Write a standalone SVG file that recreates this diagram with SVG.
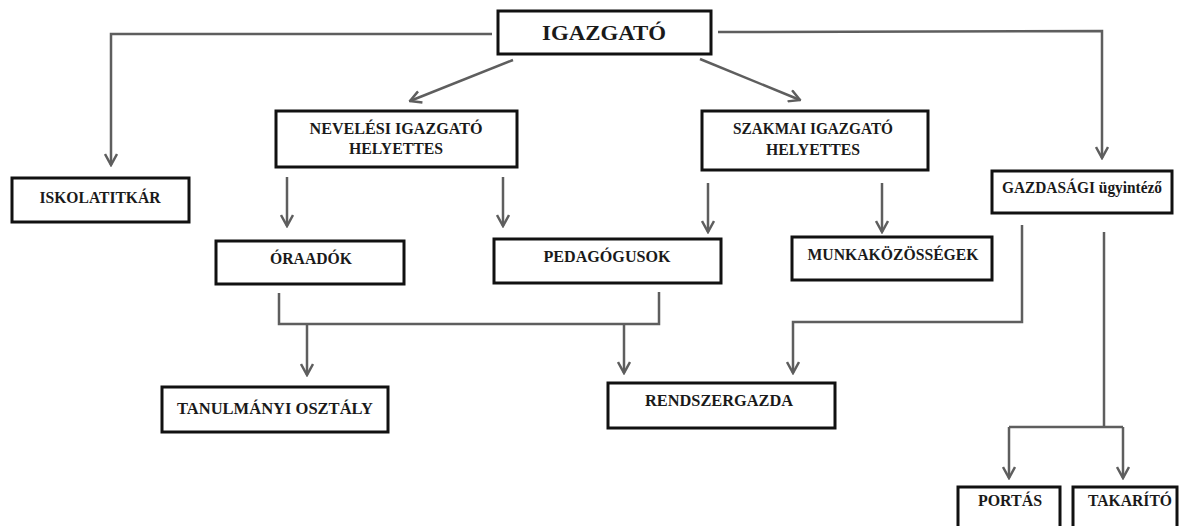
<svg xmlns="http://www.w3.org/2000/svg" width="1182" height="526" viewBox="0 0 1182 526">
<style>
.box{fill:#fff;stroke:#111;stroke-width:3}
.t{font-family:"Liberation Serif","Times New Roman",serif;font-weight:bold;fill:#1a1a1a;text-anchor:middle;font-size:16px}
.c{fill:none;stroke:#5e5e5e;stroke-width:2.5}
.a{marker-end:url(#arr)}
</style>
<defs>
<marker id="arr" viewBox="0 0 14 14" refX="12.5" refY="7" markerWidth="14" markerHeight="14" markerUnits="userSpaceOnUse" orient="auto">
<path d="M1.5,1 L12.5,7 L1.5,13" fill="none" stroke="#5e5e5e" stroke-width="2.5"/>
</marker>
</defs>
<rect width="1182" height="526" fill="#fff"/>
<g id="connectors">
<polyline class="c a" points="492,34 111,34 111,165"/>
<polyline class="c a" points="718,32 1102,31 1102,158"/>
<line class="c a" x1="513" y1="60" x2="410" y2="101"/>
<line class="c a" x1="700" y1="59" x2="800" y2="100"/>
<line class="c a" x1="287" y1="177" x2="287" y2="226"/>
<line class="c a" x1="503" y1="177" x2="503" y2="226"/>
<line class="c a" x1="708" y1="183" x2="708" y2="232"/>
<line class="c a" x1="882" y1="183" x2="882" y2="232"/>
<polyline class="c" points="279,293 279,324 659,324 659,292"/>
<line class="c a" x1="307" y1="324" x2="307" y2="375"/>
<line class="c a" x1="624" y1="324" x2="624" y2="373"/>
<polyline class="c a" points="1022,225 1022,322 793,322 793,373"/>
<polyline class="c" points="1104,232 1104,427"/>
<polyline class="c" points="1009,427 1123,427"/>
<line class="c a" x1="1009" y1="427" x2="1009" y2="478"/>
<line class="c a" x1="1123" y1="427" x2="1123" y2="478"/>
</g>
<g id="igazgato">
<rect class="box" x="498" y="11" width="213" height="43"/>
<text class="t" x="604" y="40" style="font-size:22px" textLength="124" lengthAdjust="spacingAndGlyphs">IGAZGATÓ</text>
</g>
<g id="iskolatitkar">
<rect class="box" x="12" y="178" width="177" height="44"/>
<text class="t" x="100" y="203" textLength="121" lengthAdjust="spacingAndGlyphs">ISKOLATITKÁR</text>
</g>
<g id="neveles">
<rect class="box" x="276" y="111" width="241" height="56"/>
<text class="t" x="396" y="134" textLength="173" lengthAdjust="spacingAndGlyphs">NEVELÉSI IGAZGATÓ</text>
<text class="t" x="396" y="154" textLength="94" lengthAdjust="spacingAndGlyphs">HELYETTES</text>
</g>
<g id="szakmai">
<rect class="box" x="702" y="111" width="226" height="59"/>
<text class="t" x="813" y="134" textLength="160" lengthAdjust="spacingAndGlyphs">SZAKMAI IGAZGATÓ</text>
<text class="t" x="813" y="155" textLength="94" lengthAdjust="spacingAndGlyphs">HELYETTES</text>
</g>
<g id="gazdasagi">
<rect class="box" x="992" y="171" width="180" height="42"/>
<text class="t" x="1082" y="193" textLength="160" lengthAdjust="spacingAndGlyphs">GAZDASÁGI ügyintéző</text>
</g>
<g id="oraadok">
<rect class="box" x="216" y="241" width="188" height="43"/>
<text class="t" x="311" y="264" textLength="82" lengthAdjust="spacingAndGlyphs">ÓRAADÓK</text>
</g>
<g id="pedagogusok">
<rect class="box" x="494" y="239" width="227" height="44"/>
<text class="t" x="607" y="262" textLength="127" lengthAdjust="spacingAndGlyphs">PEDAGÓGUSOK</text>
</g>
<g id="munkakozossegek">
<rect class="box" x="792" y="237" width="200" height="43"/>
<text class="t" x="893" y="260" textLength="171" lengthAdjust="spacingAndGlyphs">MUNKAKÖZÖSSÉGEK</text>
</g>
<g id="tanulmanyi">
<rect class="box" x="162" y="387" width="226" height="45"/>
<text class="t" x="275" y="414" textLength="196" lengthAdjust="spacingAndGlyphs">TANULMÁNYI OSZTÁLY</text>
</g>
<g id="rendszergazda">
<rect class="box" x="608" y="383" width="227" height="45"/>
<text class="t" x="719" y="406" textLength="148" lengthAdjust="spacingAndGlyphs">RENDSZERGAZDA</text>
</g>
<g id="portas">
<rect class="box" x="958" y="487" width="102" height="50"/>
<text class="t" x="1010" y="506" textLength="64" lengthAdjust="spacingAndGlyphs">PORTÁS</text>
</g>
<g id="takarito">
<rect class="box" x="1073" y="487" width="104" height="50"/>
<text class="t" x="1130" y="506" textLength="84" lengthAdjust="spacingAndGlyphs">TAKARÍTÓ</text>
</g>
</svg>
